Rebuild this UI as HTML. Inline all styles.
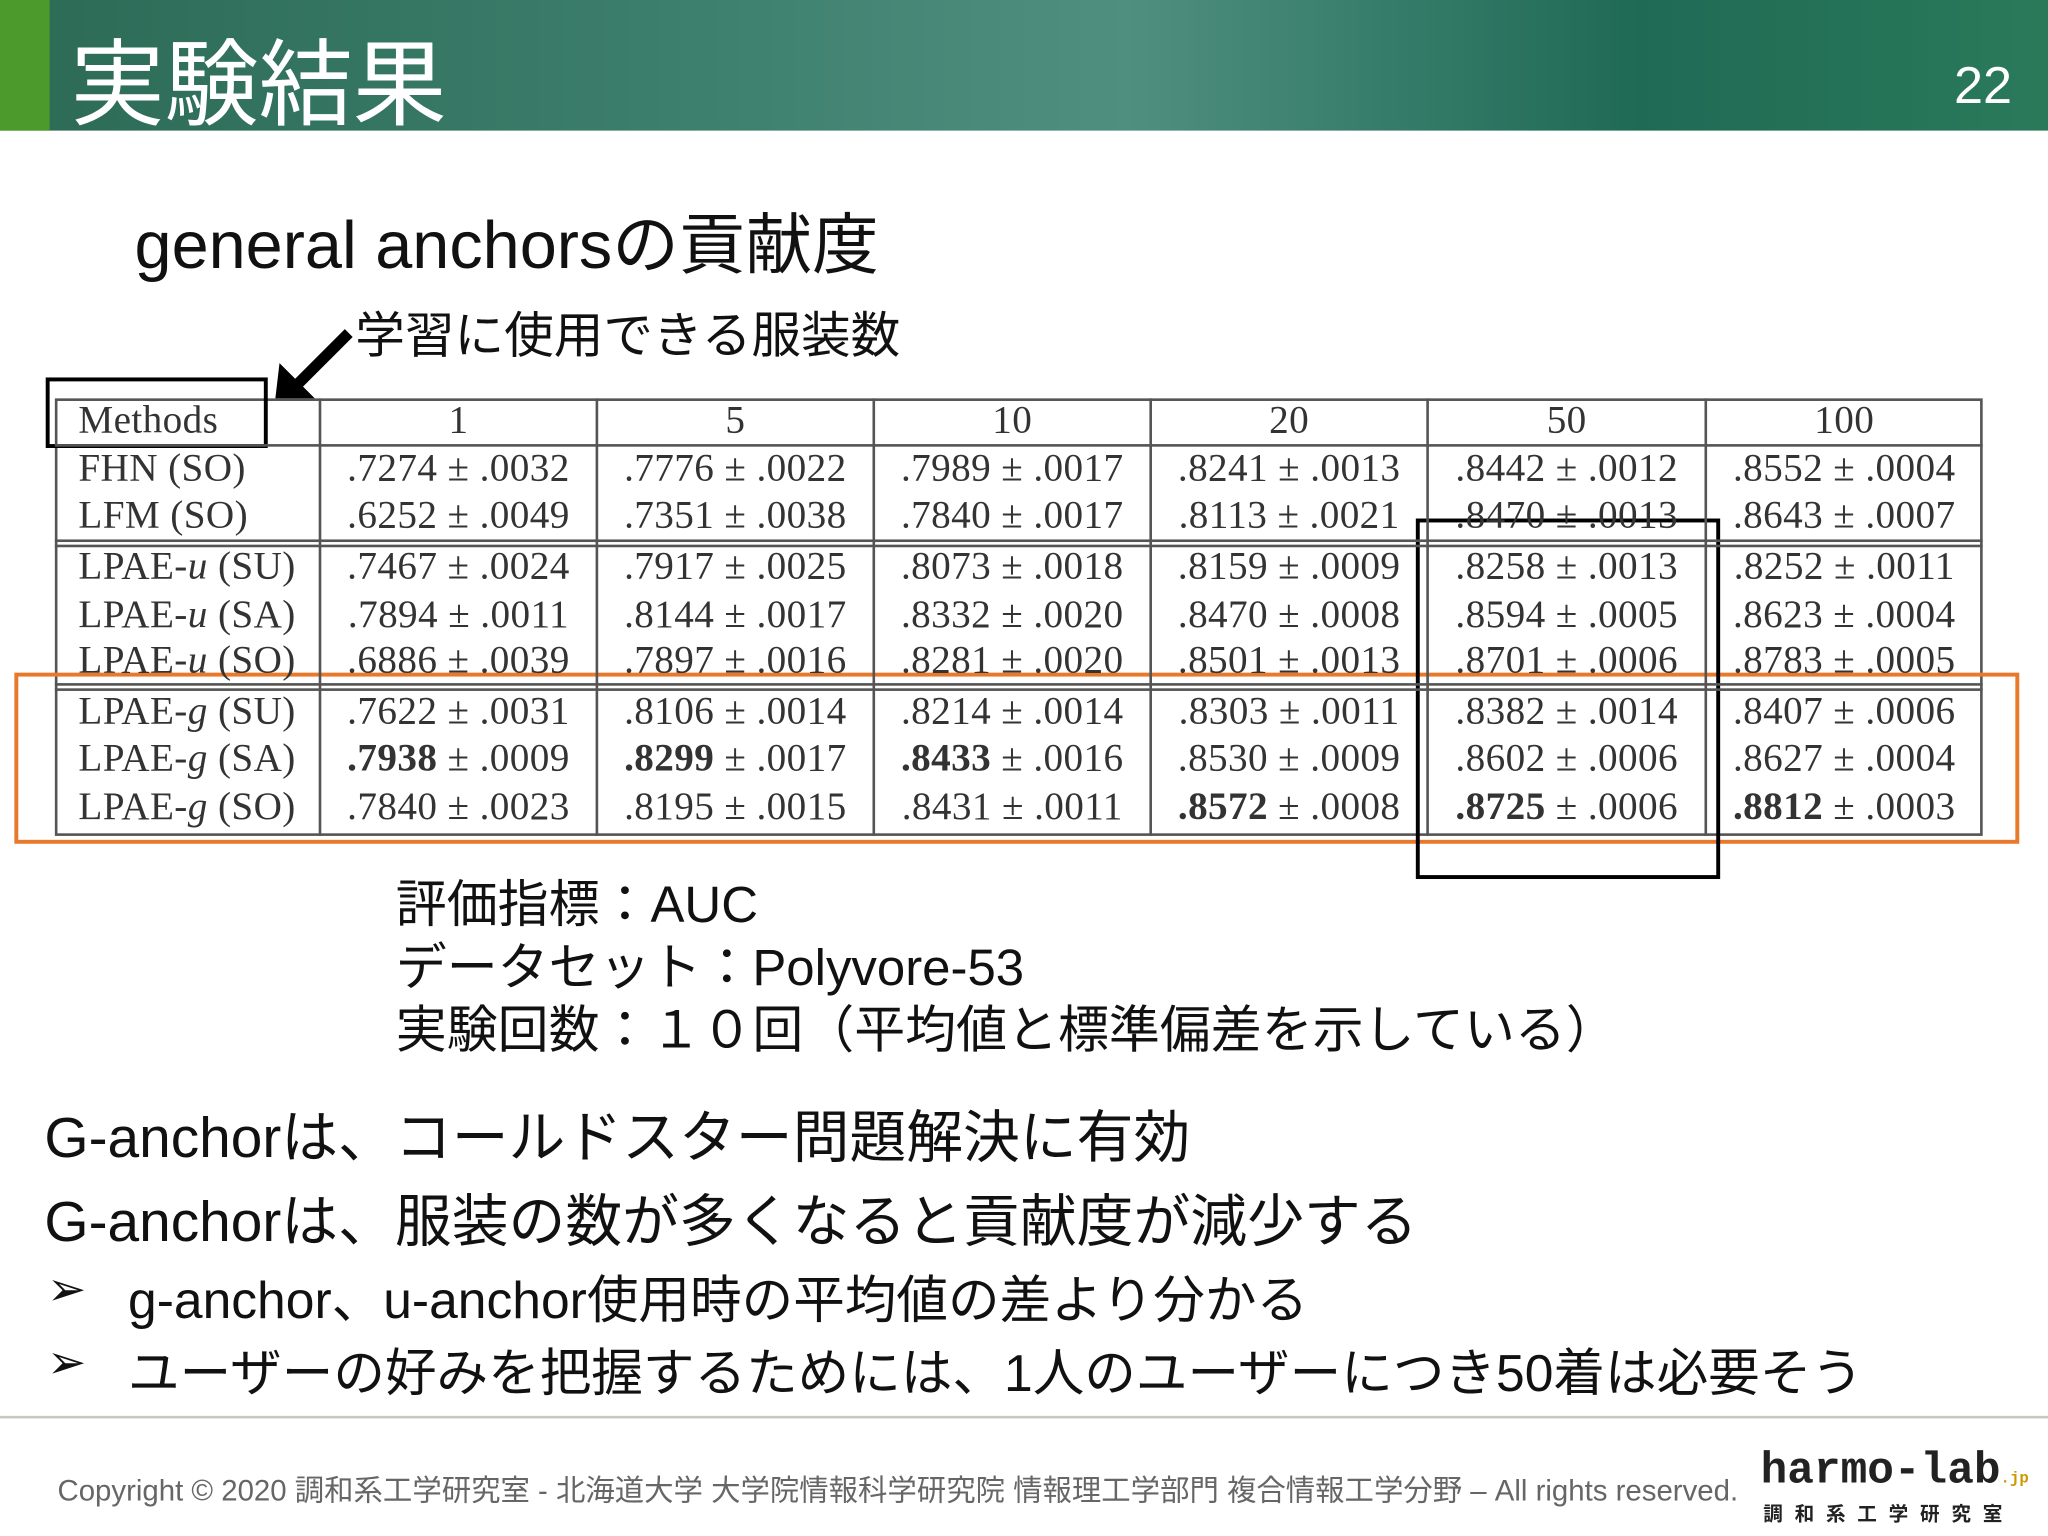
<!DOCTYPE html>
<html><head><meta charset="utf-8"><style>
body{margin:0;width:2048px;height:1536px;overflow:hidden;background:#fff}
#s{position:absolute;left:0;top:0;width:1568px;height:1176px;transform:scale(1.30612);transform-origin:0 0;font-family:"Liberation Sans","Noto Sans CJK JP",sans-serif}
.a{position:absolute;white-space:nowrap}
.c{position:absolute;text-align:center;font-family:"Liberation Serif",serif;font-size:30px;color:#333;letter-spacing:0.3px}
.m{text-align:left}
</style></head><body>
<div id="s">
<div class="a" style="left:0;top:0;width:1568px;height:100px;background:linear-gradient(90deg,#2c6a55 0%,#3a7d6a 30%,#4f8f80 55%,#1f6a55 80%,#2a7a5a 100%)"></div>
<div class="a" style="left:0;top:0;width:38px;height:100px;background:#4c9a2c"></div>
<div class="a" style="left:54px;top:6px;font-size:72px;color:#fff">実験結果</div>
<div class="a" style="left:1496px;top:44px;font-size:40px;color:#fff">22</div>
<div class="a" style="left:103px;top:146px;font-size:51px;color:#111">general anchorsの貢献度</div>
<div class="a" style="left:272px;top:226px;font-size:38px;color:#111">学習に使用できる服装数</div>
<svg class="a" style="left:200px;top:250px" width="80" height="70"><polygon points="70,8 32,46 44,58 10,62 14,28 26,40 64,2" fill="#000"/></svg>
<div class="a" style="left:42px;top:305px;width:1476px;height:335px;border:2px solid #555;box-sizing:border-box;background:#fff"></div>
<div class="a" style="left:35px;top:289px;width:170px;height:54px;border:3px solid #000;box-sizing:border-box"></div>
<div class="a" style="left:11px;top:515px;width:1535px;height:131px;border:3px solid #e8782a;box-sizing:border-box"></div>
<div class="a" style="left:1084px;top:397px;width:233px;height:276px;border:3px solid #000;box-sizing:border-box"></div>
<div class="a" style="left:303px;top:670px;font-size:39px;line-height:48px;color:#111">評価指標：AUC<br>データセット：Polyvore-53<br>実験回数：１０回（平均値と標準偏差を示している）</div>
<div class="a" style="left:34px;top:836px;font-size:43.5px;color:#111">G-anchorは、コールドスター問題解決に有効</div>
<div class="a" style="left:34px;top:900px;font-size:43.5px;color:#111">G-anchorは、服装の数が多くなると貢献度が減少する</div>
<div class="a" style="left:36px;top:966px;font-size:36px;color:#111">➢</div>
<div class="a" style="left:98px;top:964px;font-size:39.5px;color:#111">g-anchor、u-anchor使用時の平均値の差より分かる</div>
<div class="a" style="left:36px;top:1022px;font-size:36px;color:#111">➢</div>
<div class="a" style="left:98px;top:1020px;font-size:39.5px;color:#111">ユーザーの好みを把握するためには、1人のユーザーにつき50着は必要そう</div>
<div class="a" style="left:0;top:1084px;width:1568px;height:2px;background:#c8c8c0"></div>
<div class="a" style="left:44px;top:1124px;font-size:22.5px;color:#666">Copyright © 2020 調和系工学研究室 - 北海道大学 大学院情報科学研究院 情報理工学部門 複合情報工学分野 – All rights reserved.</div>
<div class="a" style="left:1348px;top:1108px;font-family:'Liberation Mono',monospace;font-weight:bold;font-size:34px;color:#222">harmo-lab<span style="font-size:12px;color:#c90">.jp</span></div>
<div class="a" style="left:1350px;top:1148px;font-size:15px;letter-spacing:9px;color:#222;font-weight:bold">調和系工学研究室</div>
</div>
<script>
const headers=["Methods","1","5","10","20","50","100"];
const methods=["FHN (SO)","LFM (SO)","LPAE-<i>u</i> (SU)","LPAE-<i>u</i> (SA)","LPAE-<i>u</i> (SO)","LPAE-<i>g</i> (SU)","LPAE-<i>g</i> (SA)","LPAE-<i>g</i> (SO)"];
const means=[[".7274",".7776",".7989",".8241",".8442",".8552"],[".6252",".7351",".7840",".8113",".8470",".8643"],[".7467",".7917",".8073",".8159",".8258",".8252"],[".7894",".8144",".8332",".8470",".8594",".8623"],[".6886",".7897",".8281",".8501",".8701",".8783"],[".7622",".8106",".8214",".8303",".8382",".8407"],[".7938",".8299",".8433",".8530",".8602",".8627"],[".7840",".8195",".8431",".8572",".8725",".8812"]];
const stds=[[".0032",".0022",".0017",".0013",".0012",".0004"],[".0049",".0038",".0017",".0021",".0013",".0007"],[".0024",".0025",".0018",".0009",".0013",".0011"],[".0011",".0017",".0020",".0008",".0005",".0004"],[".0039",".0016",".0020",".0013",".0006",".0005"],[".0031",".0014",".0014",".0011",".0014",".0006"],[".0009",".0017",".0016",".0009",".0006",".0004"],[".0023",".0015",".0011",".0008",".0006",".0003"]];
const bold=[[6,0],[6,1],[6,2],[7,3],[7,4],[7,5]];
const colX=[42,245,457,669,881,1093,1306,1518];
const rowY=[358,394,433,470,505,544,580,617];
const s=document.getElementById('s');
function add(html,l,t,w,name,left){const d=document.createElement('div');d.className='c'+(left?' m':'');d.style.left=l+'px';d.style.top=(t-19)+'px';d.style.width=w+'px';d.innerHTML=html;


s.appendChild(d);}
add(headers[0],60,324,180,'header-0',true);
headers.slice(1).forEach((h,i)=>add(h,colX[i+1],324,colX[i+2]-colX[i+1],'header-'+(i+1)));
methods.forEach((m,r)=>{add(m,60,rowY[r]+3,180,'method-'+r,true);
for(let c=0;c<6;c++){const b=bold.some(p=>p[0]==r&&p[1]==c);add((b?'<b>'+means[r][c]+'</b>':means[r][c])+' ± '+stds[r][c],colX[c+1],rowY[r]+3,colX[c+2]-colX[c+1],'cell-'+r+'-'+c);}});
function line(l,t,w,h,name){const d=document.createElement('div');d.style.cssText='position:absolute;background:#555;left:'+l+'px;top:'+t+'px;width:'+w+'px;height:'+h+'px';


s.appendChild(d);}
line(42,340,1476,2,'header-rule');
[413,417,523,527].forEach((y,i)=>line(42,y,1476,1.5,'group-rule-'+i));
for(let i=1;i<7;i++){line(colX[i]-1,305,2,335,'col-rule-'+i);}
</script>
</body></html>
